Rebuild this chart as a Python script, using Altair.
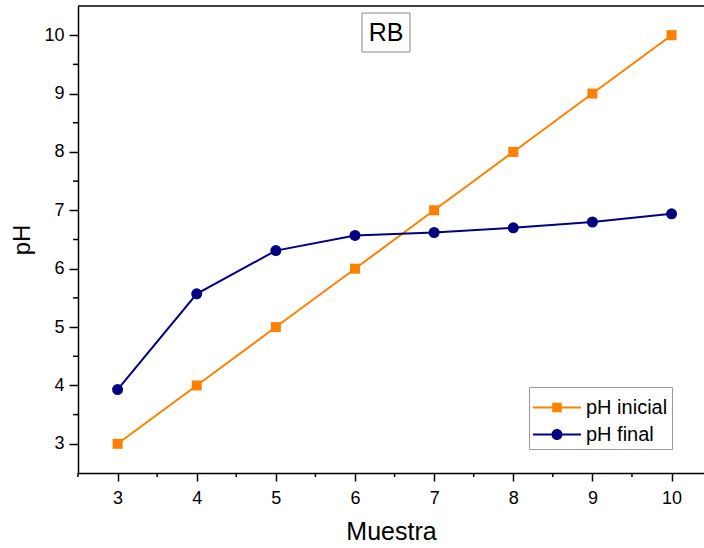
import altair as alt
import pandas as pd

# ---- data ----
muestra = [3, 4, 5, 6, 7, 8, 9, 10]
ph_inicial = [3, 4, 5, 6, 7, 8, 9, 10]
ph_final = [3.93, 5.57, 6.31, 6.57, 6.62, 6.70, 6.80, 6.94]
series = ["pH inicial", "pH final"]
colors = ["#FF8000", "#000080"]
x_major = [3, 4, 5, 6, 7, 8, 9, 10]
y_major = [3, 4, 5, 6, 7, 8, 9, 10]
x_minor = [2.5, 3.5, 4.5, 5.5, 6.5, 7.5, 8.5, 9.5]
y_minor = [3.5, 4.5, 5.5, 6.5, 7.5, 8.5, 9.5]
panel_title = "RB"

df = pd.DataFrame({
    "Muestra": muestra + muestra,
    "pH": ph_inicial + ph_final,
    "serie": [series[0]] * len(muestra) + [series[1]] * len(muestra),
})
xminor_df = pd.DataFrame({"Muestra": x_minor})
yminor_df = pd.DataFrame({"pH": y_minor})
one_df = pd.DataFrame({"t": [panel_title]})

FONT = "Liberation Sans"
W, H = 626, 467

# legend symbol paths (line segment as thin filled bars + marker)
U = 16.5          # px per path unit (sqrt(symbolSize)/2)
cx = -1 + 24 / U  # marker centre
x_end = -1 + 48 / U
t = 1.0 / U
hs = 4.75 / U
r = 5.5 / U


def f(v):
    return f"{v:.4f}"


def bars(half):
    return (f"M-1,{f(-t)}H{f(cx - half)}V{f(t)}H-1Z"
            f"M{f(cx + half)},{f(-t)}H{f(x_end)}V{f(t)}H{f(cx + half)}Z")


sq_path = bars(hs) + f"M{f(cx - hs)},{f(-hs)}H{f(cx + hs)}V{f(hs)}H{f(cx - hs)}Z"
circ_path = bars(r) + (f"M{f(cx - r)},0A{f(r)},{f(r)},0,1,1,{f(cx + r)},0"
                       f"A{f(r)},{f(r)},0,1,1,{f(cx - r)},0Z")

x_scale = alt.Scale(domain=[2.5, 2.5 + W / 79.14], nice=False, zero=False)
y_scale = alt.Scale(domain=[2.5, 10.5], nice=False, zero=False)

x_enc = alt.X(
    "Muestra:Q",
    scale=x_scale,
    axis=alt.Axis(
        title="Muestra",
        values=x_major,
        format="d",
        tickSize=8,
        labelPadding=8,
        titlePadding=12,
        titleFontSize=25,
    ),
)
y_enc = alt.Y(
    "pH:Q",
    scale=y_scale,
    axis=alt.Axis(
        title="pH",
        values=y_major,
        format="d",
        tickSize=9,
        labelPadding=5,
        titlePadding=9,
        titleFontSize=24,
    ),
)

base = alt.Chart(df)
layers = []
shapes = ["square", "circle"]
sizes = [100, 121]
for s, c, shp, sz in zip(series, colors, shapes, sizes):
    sub = base.transform_filter(alt.datum.serie == s)
    layers.append(sub.mark_line(strokeWidth=2, color=c).encode(x=x_enc, y=y_enc))
    layers.append(
        sub.mark_point(filled=True, opacity=1, color=c, shape=shp, size=sz).encode(x=x_enc, y=y_enc)
    )

# invisible layer that only feeds the legend
legend_layer = base.mark_point(filled=True, opacity=0, size=1089).encode(
    x=x_enc,
    y=y_enc,
    color=alt.Color("serie:N", scale=alt.Scale(domain=series, range=colors), legend=alt.Legend(title=None)),
    shape=alt.Shape("serie:N", scale=alt.Scale(domain=series, range=[sq_path, circ_path]), legend=alt.Legend(title=None)),
)

# minor ticks
x_minor_ticks = alt.Chart(xminor_df).mark_rule(color="black", strokeWidth=1.5).encode(
    x=alt.X("Muestra:Q", scale=x_scale), y=alt.value(H), y2=alt.value(H + 4)
)
y_minor_ticks = alt.Chart(yminor_df).mark_rule(color="black", strokeWidth=1.5).encode(
    y=alt.Y("pH:Q", scale=y_scale), x=alt.value(-5), x2=alt.value(0)
)

top_line = alt.Chart(one_df).mark_rule(color="black", strokeWidth=1.5).encode(y=alt.datum(10.5))

title_box = alt.Chart(one_df).mark_rect(
    fill="white", stroke="#888888", strokeWidth=1
).encode(x=alt.value(284), x2=alt.value(332), y=alt.value(7), y2=alt.value(46))
title_text = alt.Chart(one_df).mark_text(
    font=FONT, fontSize=25, fontWeight="normal", color="black",
    baseline="alphabetic", align="center"
).encode(text="t:N", x=alt.value(308), y=alt.value(34.7))

chart = (
    alt.layer(*layers, legend_layer, x_minor_ticks, y_minor_ticks, top_line, title_box, title_text)
    .properties(
        width=W,
        height=H,
        autosize=alt.AutoSizeParams(type="none"),
        padding={"left": 78, "top": 6, "right": 0, "bottom": 75},
        background="white",
    )
    .configure_view(stroke=None)
    .configure_axis(
        domainColor="black",
        domainWidth=1.5,
        tickColor="black",
        tickWidth=1.5,
        grid=False,
        labelFont=FONT,
        labelFontSize=18,
        labelColor="black",
        titleFont=FONT,
        titleFontWeight="normal",
        titleColor="black",
    )
    .configure_legend(
        orient="none",
        legendX=451,
        legendY=381,
        fillColor="white",
        strokeColor="#999999",
        strokeWidth=1,
        padding=4,
        rowPadding=0,
        labelFont=FONT,
        labelFontSize=20,
        labelColor="black",
        labelOffset=20,
        symbolSize=1089,
        symbolOpacity=1,
        symbolStrokeWidth=0,
    )
)

chart.save("out.html", embed_options={"renderer": "svg", "actions": False})
